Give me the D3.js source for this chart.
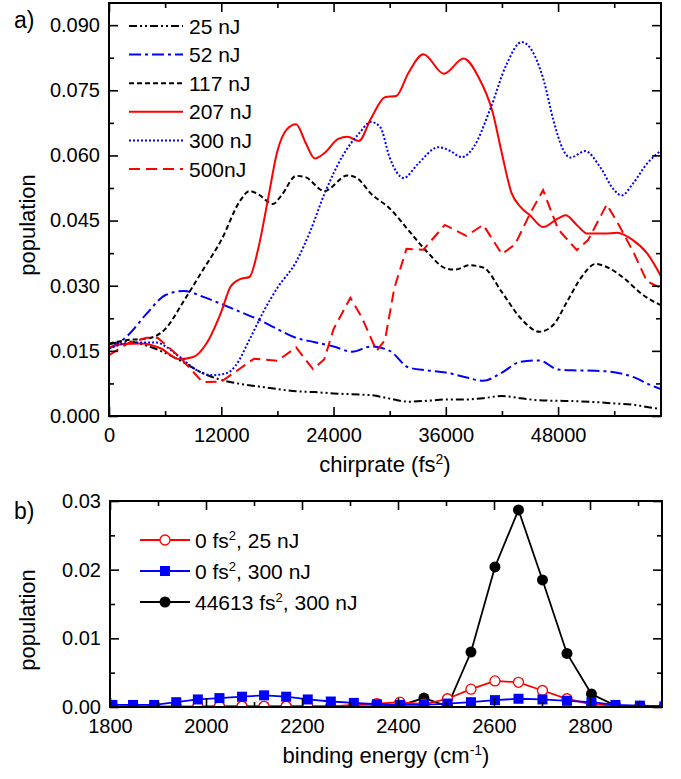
<!DOCTYPE html>
<html>
<head>
<meta charset="utf-8">
<script src="https://cdn.jsdelivr.net/npm/d3@7"></script>
<style>
  body { margin: 0; background: #fff; }
  text { font-family: "Liberation Sans", Arial, sans-serif; fill: #000; }
</style>
</head>
<body>
<svg id="chart" width="681" height="779"></svg>
<script>
// ---------- panel a) data: chirprate (fs^2) vs population ----------
var nJ25 = [[0,0.0165],[2000,0.0172],[4000,0.0162],[6000,0.0145],[8000,0.0123],[10000,0.0099],[12000,0.0083],[14000,0.0074],[16000,0.0068],[18000,0.0062],[20000,0.0057],[22000,0.0055],[24000,0.0052],[26000,0.0050],[28000,0.0048],[30000,0.0040],[32000,0.0033],[34000,0.0035],[36000,0.0038],[38000,0.0038],[40000,0.0041],[42000,0.0046],[44000,0.0041],[46000,0.0036],[48000,0.0035],[50000,0.0034],[52000,0.0032],[54000,0.0029],[56000,0.0026],[58000,0.0019],[59000,0.0016]];
var nJ52 = [[0,0.0155],[2000,0.0185],[4000,0.0235],[6000,0.0278],[8000,0.0288],[10000,0.0275],[12000,0.0258],[14000,0.0240],[16000,0.0222],[18000,0.0200],[20000,0.0180],[22000,0.0170],[24000,0.0160],[26000,0.0148],[28000,0.0160],[30000,0.0150],[32000,0.0112],[34000,0.0105],[36000,0.0100],[38000,0.0090],[40000,0.0081],[42000,0.0100],[44000,0.0125],[46000,0.0128],[48000,0.0107],[50000,0.0105],[52000,0.0104],[54000,0.0101],[56000,0.0090],[58000,0.0070],[59000,0.0062]];
var nJ117 = [[0,0.0167],[2000,0.0175],[4000,0.0178],[6000,0.0200],[8000,0.0265],[10000,0.0335],[12000,0.0405],[14000,0.0495],[15000,0.0518],[16000,0.0510],[17500,0.0488],[18500,0.0510],[20000,0.0553],[21000,0.0550],[23000,0.0518],[25500,0.0554],[26500,0.0548],[28000,0.0512],[30000,0.0478],[32000,0.0428],[34000,0.0378],[36000,0.0340],[37000,0.0337],[38500,0.0347],[40000,0.0342],[42000,0.0285],[44000,0.0225],[46000,0.0194],[47500,0.0210],[49000,0.0265],[50500,0.0320],[52000,0.0350],[53000,0.0345],[55000,0.0318],[57000,0.0280],[59000,0.0255]];
var nJ207 = [[0,0.0158],[1500,0.0166],[3500,0.0167],[5500,0.0156],[7500,0.0131],[9000,0.0136],[10500,0.0170],[12000,0.0240],[13000,0.0298],[14000,0.0315],[15000,0.0320],[16000,0.0390],[17000,0.0500],[18000,0.0610],[19000,0.0660],[20000,0.0672],[21000,0.0630],[22000,0.0593],[23000,0.0605],[24500,0.0638],[25500,0.0643],[26700,0.0633],[28000,0.0685],[29500,0.0734],[30700,0.0737],[32000,0.0790],[33600,0.0833],[35800,0.0788],[37900,0.0823],[39500,0.0780],[41000,0.0700],[42000,0.0604],[43000,0.0515],[44000,0.0481],[45000,0.0462],[46400,0.0435],[48000,0.0455],[48800,0.0462],[50000,0.0440],[51100,0.0420],[53000,0.0420],[54300,0.0422],[56000,0.0405],[57500,0.0375],[59000,0.0322]];
var nJ300 = [[0,0.0155],[2500,0.0169],[5000,0.0169],[7500,0.0137],[9500,0.0104],[11000,0.0094],[12500,0.0098],[13500,0.0115],[15000,0.0175],[16500,0.0240],[18000,0.0295],[20000,0.0355],[21500,0.0425],[23000,0.0510],[25000,0.0600],[26700,0.0650],[28000,0.0677],[29000,0.0665],[30000,0.0595],[31500,0.0548],[33000,0.0580],[35200,0.0619],[36500,0.0610],[37700,0.0596],[39000,0.0620],[40700,0.0704],[42500,0.0810],[44100,0.0861],[45500,0.0830],[46500,0.0770],[47500,0.0681],[48500,0.0615],[49300,0.0595],[50900,0.0610],[52500,0.0573],[54000,0.0520],[54800,0.0508],[56000,0.0535],[57500,0.0581],[59000,0.0611]];
var nJ500 = [[0,0.0140],[2000,0.0167],[4000,0.0180],[5200,0.0180],[7500,0.0137],[10000,0.0078],[12000,0.0079],[15500,0.0132],[18000,0.0127],[20000,0.0158],[21800,0.0108],[23000,0.0130],[24000,0.0200],[25800,0.0272],[27000,0.0228],[28600,0.0150],[29500,0.0175],[30500,0.0295],[31800,0.0385],[33600,0.0383],[35900,0.0440],[38200,0.0415],[40000,0.0440],[42000,0.0373],[43400,0.0395],[45000,0.0466],[46400,0.0520],[48000,0.0430],[50000,0.0382],[51200,0.0405],[53200,0.0487],[54500,0.0440],[56100,0.0375],[57500,0.0310],[59000,0.0295]];

var seriesNames = ["25 nJ", "52 nJ", "117 nJ", "207 nJ", "300 nJ", "500nJ"];
var chirpTicks = [0, 12000, 24000, 36000, 48000];
var popTicksA = [0, 0.015, 0.030, 0.045, 0.060, 0.075, 0.090];

// ---------- panel b) data: binding energy (cm^-1) vs population ----------
var energy = [1805,1848,1892,1938,1983,2028,2075,2121,2167,2212,2260,2308,2356,2404,2454,2503,2552,2602,2651,2701,2752,2803,2853,2904,2955];
var pop0fs25nJ = [0.0001,0.0001,0.0001,0.0001,0.0001,0.0001,0.0001,0.0001,0.0001,0.0001,0.0001,0.0003,0.0005,0.0007,0.0004,0.0012,0.0026,0.0038,0.0036,0.0024,0.0012,0.0004,0.0002,0.0001,0.0001];
var pop0fs300nJ = [0.0003,0.0003,0.0003,0.0007,0.0011,0.0013,0.0015,0.0017,0.0015,0.0011,0.0008,0.0006,0.0004,0.0003,0.0003,0.0005,0.0007,0.0010,0.0012,0.0011,0.0009,0.0007,0.0003,0.0002,0.0001];
var pop44613fs300nJ = [0.0000,0.0000,0.0000,0.0000,0.0000,0.0001,0.0001,0.0001,0.0001,0.0001,0.0001,0.0001,0.0001,0.0002,0.0013,0.0001,0.0080,0.0204,0.0287,0.0185,0.0078,0.0019,0.0002,0.0001,0.0001];
var legendB = ["0 fs|, 25 nJ", "0 fs|, 300 nJ", "44613 fs|, 300 nJ"];
var energyTicks = [1800, 2000, 2200, 2400, 2600, 2800];
var popTicksB = [0, 0.01, 0.02, 0.03];

var svg = d3.select("#chart");

// ================= panel a =================
var a = { left: 109, right: 661, top: 3, bottom: 416 };
var xA = d3.scaleLinear().domain([0, 59000]).range([a.left, a.right]);
var yA = d3.scaleLinear().domain([0, 0.0951]).range([a.bottom, a.top]);

svg.append("clipPath").attr("id", "clipA")
  .append("rect").attr("x", a.left).attr("y", a.top)
  .attr("width", a.right - a.left).attr("height", a.bottom - a.top);

var styles = [
  { data: nJ25,  color: "#000", dash: "8,3,2,3,2,3", curve: d3.curveMonotoneX },
  { data: nJ52,  color: "#0000ff", dash: "12,4,3,4", curve: d3.curveMonotoneX },
  { data: nJ117, color: "#000", dash: "5,3", curve: d3.curveMonotoneX },
  { data: nJ207, color: "#ff0000", dash: null, curve: d3.curveMonotoneX },
  { data: nJ300, color: "#0000ff", dash: "2,2", curve: d3.curveMonotoneX },
  { data: nJ500, color: "#ff0000", dash: "11,6", curve: d3.curveLinear }
];

var plotA = svg.append("g").attr("clip-path", "url(#clipA)");
styles.forEach(function(s) {
  var line = d3.line().x(d => xA(d[0])).y(d => yA(d[1])).curve(s.curve);
  plotA.append("path")
    .datum(s.data)
    .attr("d", line)
    .attr("fill", "none")
    .attr("stroke", s.color)
    .attr("stroke-width", 2)
    .attr("stroke-dasharray", s.dash);
});

function frame(box, xs, ys, xMajor, xMinor, yMajor, yMinor, xFmt, yFmt) {
  var g = svg.append("g");
  g.append("g").attr("transform", `translate(0,${box.bottom})`)
    .call(d3.axisBottom(xs).tickValues(xMinor).tickSize(-5).tickFormat(""));
  g.append("g").attr("transform", `translate(0,${box.bottom})`)
    .call(d3.axisBottom(xs).tickValues(xMajor).tickSize(-9).tickPadding(12).tickFormat(xFmt));
  g.append("g").attr("transform", `translate(0,${box.top})`)
    .call(d3.axisTop(xs).tickValues(xMinor).tickSize(-5).tickFormat(""));
  g.append("g").attr("transform", `translate(0,${box.top})`)
    .call(d3.axisTop(xs).tickValues(xMajor).tickSize(-9).tickFormat(""));
  g.append("g").attr("transform", `translate(${box.left},0)`)
    .call(d3.axisLeft(ys).tickValues(yMinor).tickSize(-5).tickFormat(""));
  g.append("g").attr("transform", `translate(${box.left},0)`)
    .call(d3.axisLeft(ys).tickValues(yMajor).tickSize(-9).tickPadding(9).tickFormat(yFmt));
  g.append("g").attr("transform", `translate(${box.right},0)`)
    .call(d3.axisRight(ys).tickValues(yMinor).tickSize(-5).tickFormat(""));
  g.append("g").attr("transform", `translate(${box.right},0)`)
    .call(d3.axisRight(ys).tickValues(yMajor).tickSize(-9).tickFormat(""));
  g.selectAll(".domain").remove();
  g.selectAll(".tick line").attr("stroke", "#000").attr("stroke-width", 1.6);
  g.selectAll(".tick text").style("font-size", "20px").style("font-family", "Liberation Sans, Arial, sans-serif");
  g.append("rect")
    .attr("x", box.left).attr("y", box.top)
    .attr("width", box.right - box.left).attr("height", box.bottom - box.top)
    .attr("fill", "none").attr("stroke", "#000").attr("stroke-width", 2);
}

frame(a, xA, yA, chirpTicks, d3.range(6000, 59000, 12000),
  popTicksA, d3.range(0.0075, 0.095, 0.015), d3.format("d"), d3.format(".3f"));

// legend a
var legA = svg.append("g");
styles.forEach(function(s, i) {
  var y = 26 + i * 28.6;
  legA.append("line")
    .attr("x1", 129).attr("x2", 183).attr("y1", y).attr("y2", y)
    .attr("stroke", s.color).attr("stroke-width", 2)
    .attr("stroke-dasharray", s.dash);
  legA.append("text")
    .attr("x", 189).attr("y", y + 7.5)
    .style("font-size", "21px")
    .text(seriesNames[i]);
});

// axis labels a
svg.append("text").attr("x", 14).attr("y", 28).style("font-size", "23px").text("a)");
svg.append("text")
  .attr("transform", "translate(35,225) rotate(-90)")
  .attr("text-anchor", "middle")
  .style("font-size", "22px")
  .text("population");
var xlabA = svg.append("text")
  .attr("x", 385).attr("y", 472)
  .attr("text-anchor", "middle")
  .style("font-size", "22px");
xlabA.append("tspan").text("chirprate (fs");
xlabA.append("tspan").attr("dy", -8).style("font-size", "14px").text("2");
xlabA.append("tspan").attr("dy", 8).text(")");

// ================= panel b =================
var b = { left: 110, right: 662, top: 501, bottom: 707 };
var xB = d3.scaleLinear().domain([1800, 2950]).range([b.left, b.right]);
var yB = d3.scaleLinear().domain([0, 0.03]).range([b.bottom, b.top]);

svg.append("clipPath").attr("id", "clipB")
  .append("rect").attr("x", b.left).attr("y", b.top)
  .attr("width", b.right - b.left).attr("height", b.bottom - b.top);

var seriesB = [
  { values: pop0fs25nJ, color: "#ff0000", marker: "openCircle" },
  { values: pop0fs300nJ, color: "#0000ff", marker: "square" },
  { values: pop44613fs300nJ, color: "#000", marker: "circle" }
];
var drawOrder = [2, 0, 1];

var plotB = svg.append("g").attr("clip-path", "url(#clipB)");
var lineB = d3.line().x(d => xB(d[0])).y(d => yB(d[1]));

function drawMarker(g, kind, color, cx, cy) {
  if (kind === "square") {
    g.append("rect").attr("x", cx - 5).attr("y", cy - 5)
      .attr("width", 10).attr("height", 10).attr("fill", color);
  } else if (kind === "circle") {
    g.append("circle").attr("cx", cx).attr("cy", cy).attr("r", 5.5).attr("fill", color);
  } else {
    g.append("circle").attr("cx", cx).attr("cy", cy).attr("r", 5)
      .attr("fill", "#fff").attr("stroke", color).attr("stroke-width", 1.3);
  }
}

drawOrder.forEach(function(k) {
  var s = seriesB[k];
  var pts = energy.map((e, i) => [e, s.values[i]]);
  plotB.append("path").datum(pts).attr("d", lineB)
    .attr("fill", "none").attr("stroke", s.color).attr("stroke-width", 1.8);
  pts.forEach(function(p) {
    drawMarker(plotB, s.marker, s.color, xB(p[0]), yB(p[1]));
  });
});

frame(b, xB, yB, energyTicks, d3.range(1900, 2950, 200),
  popTicksB, d3.range(0.005, 0.03, 0.01), d3.format("d"), d3.format(".2f"));

// legend b
var legB = svg.append("g");
seriesB.forEach(function(s, i) {
  var y = 540 + i * 31;
  legB.append("line").attr("x1", 140).attr("x2", 190).attr("y1", y).attr("y2", y)
    .attr("stroke", s.color).attr("stroke-width", 1.8);
  drawMarker(legB, s.marker, s.color, 165, y);
  var parts = legendB[i].split("|");
  var t = legB.append("text").attr("x", 195).attr("y", y + 7.5).style("font-size", "21px");
  t.append("tspan").text(parts[0]);
  t.append("tspan").attr("dy", -8).style("font-size", "13px").text("2");
  t.append("tspan").attr("dy", 8).text(parts[1]);
});

svg.append("text").attr("x", 14).attr("y", 519).style("font-size", "23px").text("b)");
svg.append("text")
  .attr("transform", "translate(35,620) rotate(-90)")
  .attr("text-anchor", "middle")
  .style("font-size", "22px")
  .text("population");
var xlabB = svg.append("text")
  .attr("x", 386).attr("y", 763)
  .attr("text-anchor", "middle")
  .style("font-size", "22px");
xlabB.append("tspan").text("binding energy (cm");
xlabB.append("tspan").attr("dy", -8).style("font-size", "14px").text("-1");
xlabB.append("tspan").attr("dy", 8).text(")");
</script>
</body>
</html>
